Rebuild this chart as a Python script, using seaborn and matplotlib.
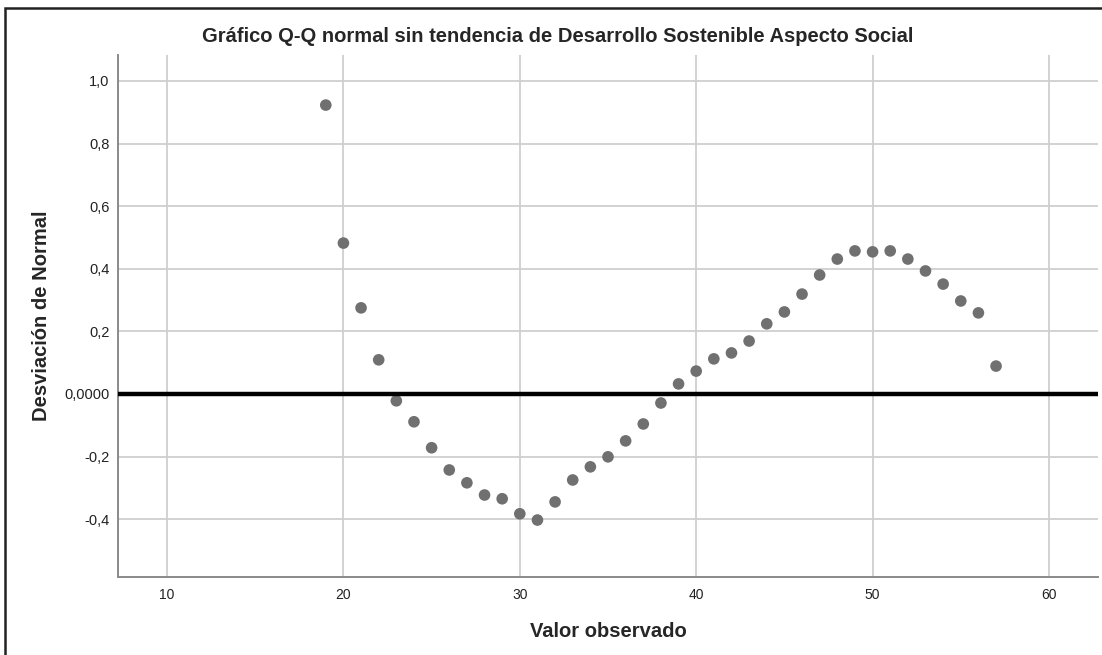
import matplotlib
matplotlib.use("Agg")
import matplotlib.pyplot as plt
import seaborn as sns
import pandas as pd
from matplotlib.patches import Rectangle

# observed values (x) and deviation from normal (y)
valor_observado = list(range(19, 58))
desviacion = [
    0.923, 0.482, 0.275, 0.109, -0.022, -0.089, -0.172, -0.243, -0.284, -0.323,
    -0.335, -0.383, -0.403, -0.345, -0.275, -0.233, -0.201, -0.150, -0.096, -0.029,
    0.032, 0.073, 0.112, 0.131, 0.169, 0.224, 0.262, 0.319, 0.380, 0.431,
    0.457, 0.454, 0.457, 0.431, 0.393, 0.351, 0.297, 0.259, 0.089,
]

x_ticks = [10, 20, 30, 40, 50, 60]
y_ticks = [-0.4, -0.2, 0.0, 0.2, 0.4, 0.6, 0.8, 1.0]
y_tick_labels = ["-0,4", "-0,2", "0,0000", "0,2", "0,4", "0,6", "0,8", "1,0"]

titulo = "Gráfico Q-Q normal sin tendencia de Desarrollo Sostenible Aspecto Social"

df = pd.DataFrame({"x": valor_observado, "y": desviacion})

sns.set_style("white")
plt.rcParams["font.family"] = ["Liberation Sans", "DejaVu Sans"]

fig = plt.figure(figsize=(11.02, 6.55), dpi=100)
ax = fig.add_axes([118 / 1102, 1 - 577 / 655, 980 / 1102, 522 / 655])

sns.scatterplot(data=df, x="x", y="y", ax=ax, color="#707070", s=70,
                edgecolor="none", linewidth=0, zorder=3)
ax.axhline(0, color="black", lw=3.2, zorder=4)

ax.set_xlim(7.22, 62.78)
ax.set_ylim(-0.585, 1.083)
ax.set_xticks(x_ticks)
ax.set_xticklabels([str(v) for v in x_ticks], fontsize=10, color="#222222")
ax.set_yticks(y_ticks)
ax.set_yticklabels(y_tick_labels, fontsize=10.5, color="#222222")
ax.tick_params(axis="both", length=0)
ax.tick_params(axis="x", pad=8)
ax.tick_params(axis="y", pad=6)

ax.grid(True, color="#cfcfcf", lw=1.3)
ax.set_axisbelow(True)
for s in ["top", "right"]:
    ax.spines[s].set_visible(False)
for s in ["left", "bottom"]:
    ax.spines[s].set_color("#8a8a8a")
    ax.spines[s].set_linewidth(1.4)

ax.set_xlabel("Valor observado", fontsize=14.5, fontweight="bold")
ax.set_ylabel("Desviación de Normal", fontsize=14.5, fontweight="bold")
ax.xaxis.set_label_coords(0.5, -0.086)
ax.yaxis.set_label_coords(-0.068, 0.5)

fig.text(558 / 1102, 1 - 37 / 655, titulo, ha="center", va="center",
         fontsize=14.5, fontweight="bold")

# outer chart frame (left and top edges visible)
fig.patches.append(Rectangle((5 / 1102, -0.1), 1.2, 1 - 8 / 655 + 0.1,
                             transform=fig.transFigure, fill=False,
                             edgecolor="#222222", lw=1.8))

fig.savefig("out.png", dpi=100)
